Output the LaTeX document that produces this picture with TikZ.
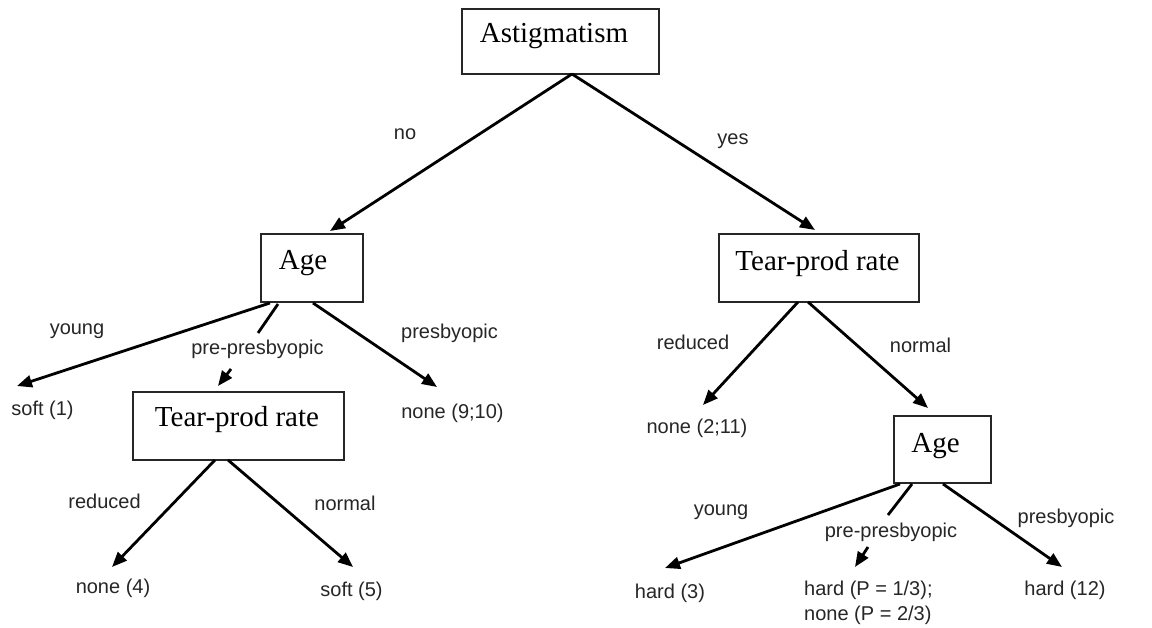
\documentclass[tikz,border=0pt]{standalone}
\usepackage{fontspec}
\setmainfont{Liberation Serif}
\setsansfont{Liberation Sans}
\usetikzlibrary{arrows.meta}
\begin{document}
\begin{tikzpicture}[x=1pt,y=-1pt,
  box/.style={draw=black!85, line width=1.7pt, inner sep=0pt, text height=19pt,
    font=\fontsize{29}{33}\selectfont},
  lbl/.style={anchor=base, inner sep=0pt, text=black!85, font=\sffamily\fontsize{20}{24}\selectfont},
  leaf/.style={lbl},
  arr/.style={line width=2.8pt, -{Triangle[length=15pt,width=12pt]}},
  seg/.style={line width=2.8pt}
]
\path[use as bounding box, fill=white] (0,0) rectangle (1152,628);

% boxes
\node[box, minimum width=197pt, minimum height=65pt, text depth=16pt] (ast) at (560.5,41.5) {Astigmatism\kern13pt};
\node[box, minimum width=102pt, minimum height=68pt, text depth=15pt] (ageL) at (312,268) {Age\kern18pt};
\node[box, minimum width=211pt, minimum height=68pt, text depth=17pt] (tearL) at (238.5,426) {Tear-prod rate\kern3pt};
\node[box, minimum width=200pt, minimum height=68pt, text depth=13pt] (tearR) at (819,268) {Tear-prod rate\kern3pt};
\node[box, minimum width=97pt, minimum height=67pt, text depth=14pt] (ageR) at (942.5,449.5) {Age\kern14pt};

% leaves
\node[leaf] (soft1) at (42.5,415) {soft (1)};
\node[leaf] (none910) at (452.5,419) {none (9;10)};
\node[leaf] (none4) at (113,593) {none (4)};
\node[leaf] (soft5) at (351.5,596) {soft (5)};
\node[leaf] (none211) at (697,434) {none (2;11)};
\node[leaf] (hard3) at (670,598) {hard (3)};
\node[leaf, anchor=base west] (hardP1) at (804,595) {hard (P = 1/3);};
\node[leaf, anchor=base west] (hardP2) at (804,620) {none (P = 2/3)};
\node[leaf] (hard12) at (1065,595) {hard (12)};

% edge labels
\node[lbl] (lno) at (405,140) {no};
\node[lbl] (lyes) at (733,145) {yes};
\node[lbl] (lyoungL) at (77,335) {young};
\node[lbl] (lpreL) at (257.5,355) {pre-presbyopic};
\node[lbl] (lpresL) at (449.5,339) {presbyopic};
\node[lbl] (lredL) at (104.5,508) {reduced};
\node[lbl] (lnormL) at (345,510) {normal};
\node[lbl] (lredR) at (693,350) {reduced};
\node[lbl] (lnormR) at (920.5,353) {normal};
\node[lbl] (lyoungR) at (721,515) {young};
\node[lbl] (lpreR) at (891,537) {pre-presbyopic};
\node[lbl] (lpresR) at (1066,523) {presbyopic};

% connector end points
\coordinate (astS) at (572,74);
\coordinate (ageLtop) at (330,231);
\coordinate (tearRtop) at (815,230);
\coordinate (ageLy) at (270,303);
\coordinate (ageLp) at (278,304);
\coordinate (ageLpr) at (313,303);
\coordinate (soft1t) at (17,386);
\coordinate (preLa) at (258,333);
\coordinate (preLb) at (231,369);
\coordinate (tearLtop) at (218,386);
\coordinate (none910t) at (437,387);
\coordinate (tearLr) at (215,460);
\coordinate (tearLn) at (228,460);
\coordinate (none4t) at (112,567);
\coordinate (soft5t) at (353,567);
\coordinate (tearRr) at (798,302);
\coordinate (tearRn) at (808,302);
\coordinate (none211t) at (703,405);
\coordinate (ageRtop) at (928,408);
\coordinate (ageRy) at (900,484);
\coordinate (ageRp) at (912,484);
\coordinate (ageRpr) at (943,484);
\coordinate (hard3t) at (665,568);
\coordinate (preRa) at (888,515);
\coordinate (preRb) at (868,547);
\coordinate (hardPt) at (855,567);
\coordinate (hard12t) at (1062,567);

% connectors
\draw[arr] (astS) -- (ageLtop);
\draw[arr] (astS) -- (tearRtop);
\draw[arr] (ageLy) -- (soft1t);
\draw[seg] (ageLp) -- (preLa);
\draw[arr] (preLb) -- (tearLtop);
\draw[arr] (ageLpr) -- (none910t);
\draw[arr] (tearLr) -- (none4t);
\draw[arr] (tearLn) -- (soft5t);
\draw[arr] (tearRr) -- (none211t);
\draw[arr] (tearRn) -- (ageRtop);
\draw[arr] (ageRy) -- (hard3t);
\draw[seg] (ageRp) -- (preRa);
\draw[arr] (preRb) -- (hardPt);
\draw[arr] (ageRpr) -- (hard12t);
\end{tikzpicture}
\end{document}
